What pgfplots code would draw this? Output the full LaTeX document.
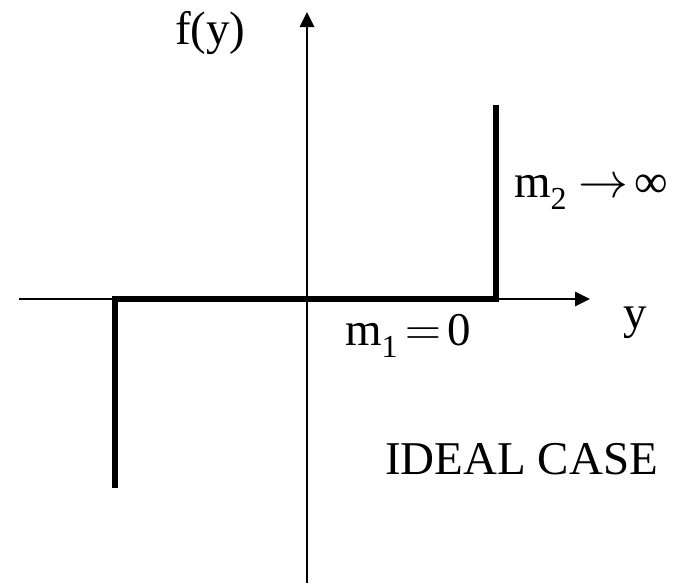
\documentclass[border=0pt]{standalone}
\usepackage{fontspec}
\setmainfont{Liberation Serif}
\usepackage{pgfplots}
\pgfplotsset{compat=1.18}
\usetikzlibrary{arrows.meta}
\tikzset{lbl/.style={font=\fontsize{23.5pt}{28pt}\selectfont, inner sep=0pt, outer sep=0pt}}
\newcommand{\sub}[1]{\raisebox{-6pt}{\fontsize{16pt}{16pt}\selectfont #1}}
\begin{document}
\begin{tikzpicture}
\begin{axis}[hide axis, scale only axis, width=341.5pt, height=293pt,
  xmin=0, xmax=683, ymin=0, ymax=586, clip=false]
\path (rel axis cs:0,0) rectangle (rel axis cs:1,1);
% axes
\addplot[line width=1.4pt, -{Triangle[length=7.5pt,width=7pt]}] coordinates {(19,287) (590,287)};
\addplot[line width=1.4pt, -{Triangle[length=7.5pt,width=7pt]}] coordinates {(307,3) (307,574)};
% ideal characteristic
\addplot[line width=3pt, line join=miter] coordinates {(115,98) (115,287) (496,287) (496,481)};
% labels
\node[lbl, anchor=base west] at (axis cs:514,389) {m\sub{2}\hspace{6pt}$\rightarrow$\hspace{3pt}∞};
\node[lbl, anchor=base west] at (axis cs:345,241) {m\sub{1}\hspace{4pt}$=$\hspace{3pt}0};
\node[lbl, anchor=base west] at (axis cs:175,542) {f(y)};
\node[lbl, anchor=base west] at (axis cs:623,258) {y};
\node[lbl, anchor=base east] at (axis cs:658,112) {IDEAL CASE};
\end{axis}
\end{tikzpicture}
\end{document}
